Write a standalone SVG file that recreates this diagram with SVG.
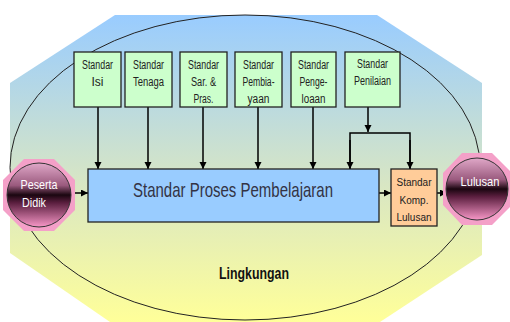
<svg xmlns="http://www.w3.org/2000/svg" width="510" height="322" viewBox="0 0 510 322">
<defs>
<linearGradient id="bg" x1="0" y1="0" x2="0" y2="1">
<stop offset="0" stop-color="#99ccff"/>
<stop offset="0.55" stop-color="#d8e6c4"/>
<stop offset="1" stop-color="#ffff99"/>
</linearGradient>
<linearGradient id="ball" x1="0" y1="0" x2="0" y2="1">
<stop offset="0" stop-color="#e0a8c8"/>
<stop offset="0.35" stop-color="#9a5a7e"/>
<stop offset="0.5" stop-color="#1a0610"/>
<stop offset="0.62" stop-color="#5a1e3e"/>
<stop offset="1" stop-color="#f898c8"/>
</linearGradient>
<marker id="ah" markerUnits="userSpaceOnUse" markerWidth="8" markerHeight="8" refX="7" refY="3.5" orient="auto">
<path d="M0,0 L7,3.5 L0,7 z" fill="#000"/>
</marker>
<style>
.std{fill:#ccffcc;stroke:#222;stroke-width:1.3}
.t{font-family:"Liberation Sans",Arial,sans-serif;font-size:12px;fill:#222;text-anchor:middle}
.k{font-family:"Liberation Sans",Arial,sans-serif;font-size:10px;fill:#222;text-anchor:middle}
.c{fill:none;stroke:#000;stroke-width:1.5}
.a{fill:none;stroke:#000;stroke-width:1.5;marker-end:url(#ah)}
.glow{fill:#f4a0c8}
.ball{fill:url(#ball);stroke:#333;stroke-width:1}
.w{font-family:"Liberation Sans",Arial,sans-serif;font-size:13px;fill:#fff;text-anchor:middle}
</style>
</defs>
<g id="background">
<polygon points="115,15 377,15 482,83 482,255 380,322 110,322 10,253 10,83" fill="url(#bg)"/>
<ellipse cx="245" cy="167.5" rx="235" ry="152.5" fill="none" stroke="#222" stroke-width="1"/>
</g>
<g id="connectors">
<line class="a" x1="98" y1="107" x2="98" y2="169"/>
<line class="a" x1="148" y1="107" x2="148" y2="169"/>
<line class="a" x1="203" y1="107" x2="203" y2="169"/>
<line class="a" x1="258" y1="107" x2="258" y2="169"/>
<line class="a" x1="313" y1="107" x2="313" y2="169"/>
<line class="a" x1="368" y1="107" x2="368" y2="132"/>
<polyline class="c" points="350,169 350,133 410,133 410,169"/>
<line class="a" x1="350" y1="140" x2="350" y2="169"/>
<line class="a" x1="410" y1="140" x2="410" y2="169"/>
<line class="a" x1="72" y1="193" x2="88" y2="193"/>
<line class="a" x1="379" y1="193" x2="391" y2="193"/>
<line class="a" x1="437" y1="193" x2="447" y2="193"/>
</g>
<g id="std-isi">
<rect class="std" x="74" y="52" width="47" height="55"/>
<text class="t" x="97.5" y="69" textLength="31" lengthAdjust="spacingAndGlyphs">Standar</text>
<text class="t" x="97.5" y="86">Isi</text>
</g>
<g id="std-tenaga">
<rect class="std" x="125" y="52" width="47" height="55"/>
<text class="t" x="148.5" y="69" textLength="31" lengthAdjust="spacingAndGlyphs">Standar</text>
<text class="t" x="148.5" y="86" textLength="31" lengthAdjust="spacingAndGlyphs">Tenaga</text>
</g>
<g id="std-sarpras">
<rect class="std" x="180" y="52" width="47" height="55"/>
<text class="t" x="203.5" y="69" textLength="31" lengthAdjust="spacingAndGlyphs">Standar</text>
<text class="t" x="203.5" y="86" textLength="25" lengthAdjust="spacingAndGlyphs">Sar. &amp;</text>
<text class="t" x="203.5" y="103" textLength="20" lengthAdjust="spacingAndGlyphs">Pras.</text>
</g>
<g id="std-pembiayaan">
<rect class="std" x="235" y="52" width="47" height="55"/>
<text class="t" x="258.5" y="69" textLength="31" lengthAdjust="spacingAndGlyphs">Standar</text>
<text class="t" x="258.5" y="86" textLength="32" lengthAdjust="spacingAndGlyphs">Pembia-</text>
<text class="t" x="258.5" y="103" textLength="22" lengthAdjust="spacingAndGlyphs">yaan</text>
</g>
<g id="std-pengelolaan">
<rect class="std" x="291" y="52" width="45" height="55"/>
<text class="t" x="313.5" y="69" textLength="31" lengthAdjust="spacingAndGlyphs">Standar</text>
<text class="t" x="313.5" y="86" textLength="28" lengthAdjust="spacingAndGlyphs">Penge-</text>
<text class="t" x="313.5" y="103" textLength="24" lengthAdjust="spacingAndGlyphs">loaan</text>
</g>
<g id="std-penilaian">
<rect class="std" x="345" y="52" width="55" height="55"/>
<text class="t" x="372.5" y="68" textLength="31" lengthAdjust="spacingAndGlyphs">Standar</text>
<text class="t" x="372.5" y="85" textLength="37" lengthAdjust="spacingAndGlyphs">Penilaian</text>
</g>
<g id="proses">
<rect x="88" y="169" width="291" height="53" fill="#99ccff" stroke="#222" stroke-width="1.3"/>
<text x="233" y="197" font-family="'Liberation Sans',Arial,sans-serif" font-size="21" fill="#333344" text-anchor="middle" textLength="200" lengthAdjust="spacingAndGlyphs">Standar Proses Pembelajaran</text>
</g>
<g id="std-komp">
<rect x="391" y="169" width="46" height="57" fill="#ffcc99" stroke="#222" stroke-width="1.3"/>
<text class="k"><tspan x="414" y="186">Standar</tspan><tspan x="414" y="204">Komp.</tspan><tspan x="414" y="221">Lulusan</tspan></text>
</g>
<g id="peserta">
<polygon class="glow" points="24,159 54,159 75,180 75,210 54,231 24,231 3,210 3,180"/>
<circle class="ball" cx="39" cy="195" r="32"/>
<text class="w" x="39" y="189" textLength="37" lengthAdjust="spacingAndGlyphs">Peserta</text>
<text class="w" x="34" y="207" textLength="24" lengthAdjust="spacingAndGlyphs">Didik</text>
</g>
<g id="lulusan">
<polygon class="glow" points="462,153 492,153 512,173 512,205 492,225 462,225 443,205 443,173"/>
<circle class="ball" cx="477" cy="189" r="31"/>
<text class="w" x="480" y="186" font-size="14" textLength="39" lengthAdjust="spacingAndGlyphs">Lulusan</text>
</g>
<g id="lingkungan">
<text x="254" y="279" font-family="'Liberation Sans',Arial,sans-serif" font-size="16" font-weight="bold" fill="#111" text-anchor="middle" textLength="70" lengthAdjust="spacingAndGlyphs">Lingkungan</text>
</g>
</svg>
